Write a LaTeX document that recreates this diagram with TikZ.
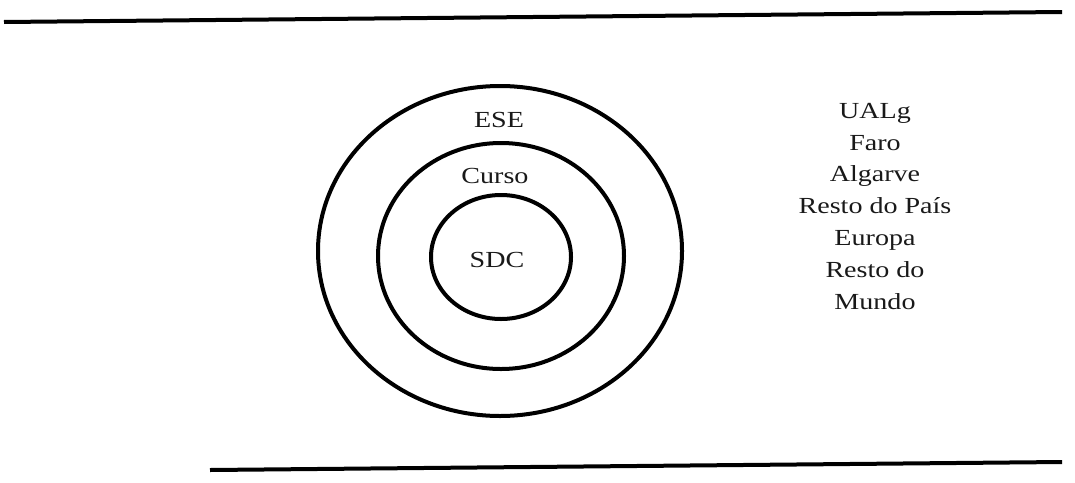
\documentclass[tikz,border=0pt]{standalone}
\usepackage{fontspec}
\setmainfont{Liberation Serif}[FakeStretch=1.22]
\begin{document}
\begin{tikzpicture}[x=1pt,y=-1pt,
  rule/.style={line width=4pt},
  ring/.style={line width=4pt},
  lbl/.style={font=\fontsize{23}{31.8}\selectfont, inner sep=0pt, text=black!90}]
\useasboundingbox[fill=white] (0,0) rectangle (1075,482);
% rules
\coordinate (t1) at (4,22);
\coordinate (t2) at (1062,12);
\coordinate (b1) at (210,470);
\coordinate (b2) at (1062,462);
\draw[rule] (t1) -- (t2);
\draw[rule] (b1) -- (b2);
% rings
\draw[ring] (500,251) ellipse [x radius=182, y radius=165];
\draw[ring] (501,256) ellipse [x radius=123, y radius=113];
\draw[ring] (501,257) ellipse [x radius=70, y radius=62];
% labels
\node[lbl, anchor=base] (ese) at (499,127) {ESE};
\node[lbl, anchor=base] (curso) at (495,183) {Curso};
\node[lbl, anchor=base] (sdc) at (497,267) {SDC};
\node[lbl, anchor=north, align=center] (list) at (875,103)
  {UALg\\Faro\\Algarve\\Resto do País\\Europa\\Resto do\\Mundo};
\end{tikzpicture}
\end{document}
